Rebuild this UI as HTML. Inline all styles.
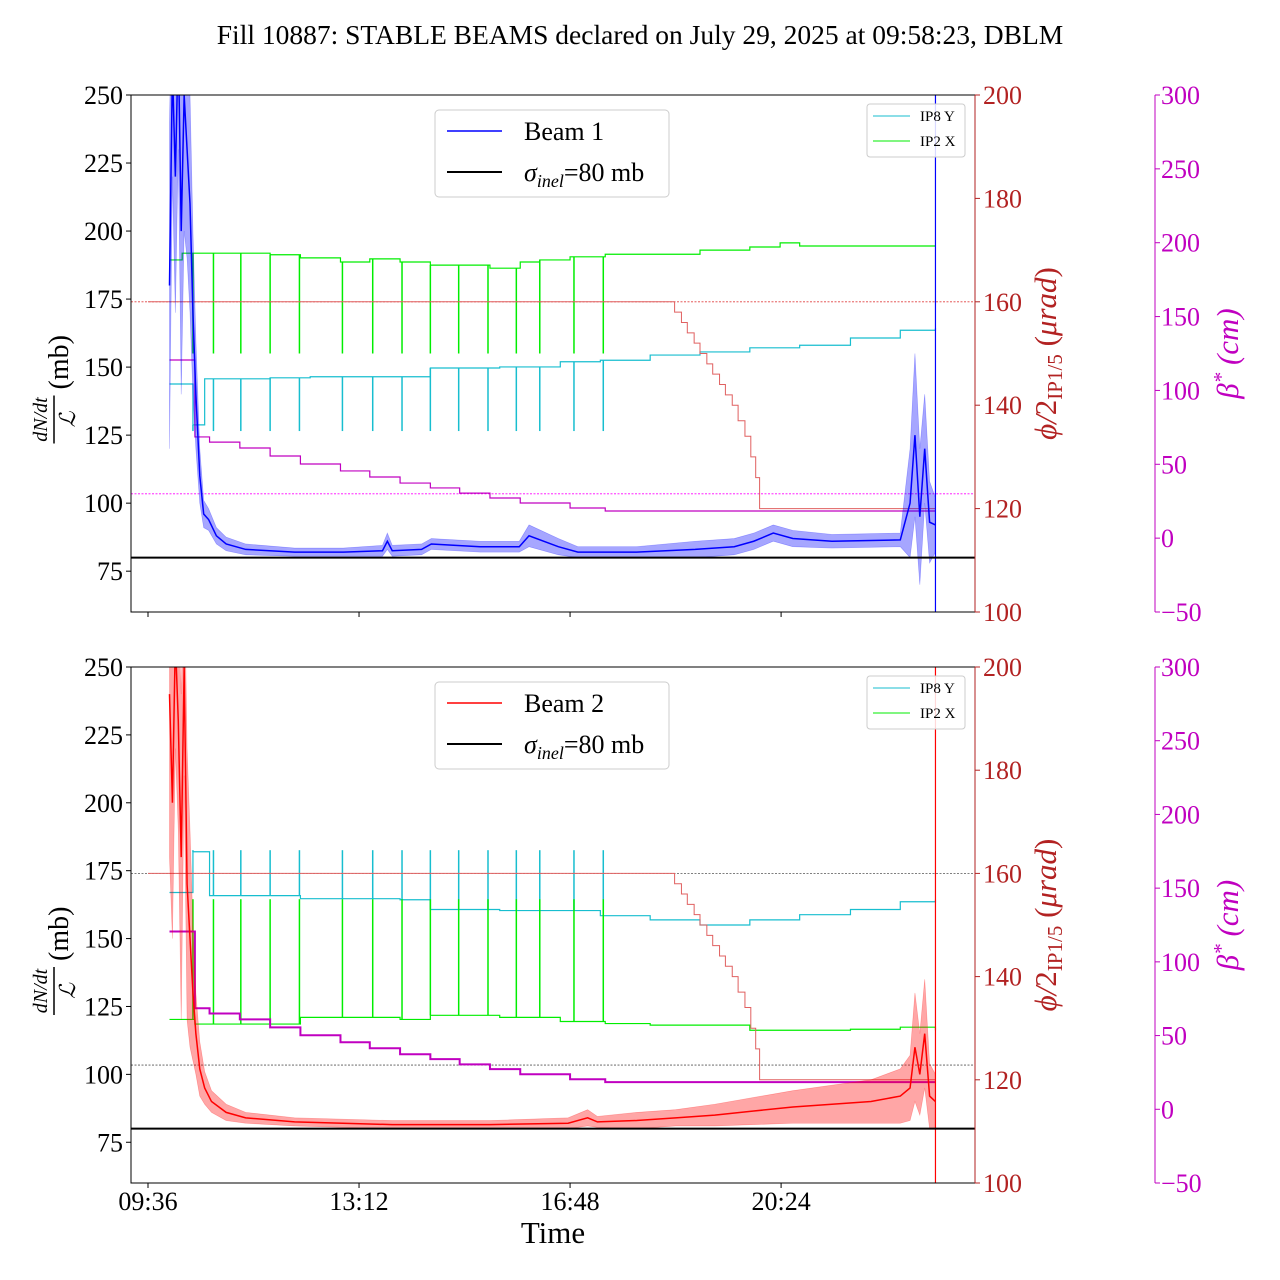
<!DOCTYPE html>
<html><head><meta charset="utf-8"><style>
html,body{margin:0;padding:0;background:#fff}
svg{display:block;font-family:"Liberation Serif",serif}
</style></head><body>
<svg id="chart" width="1280" height="1280" viewBox="0 0 1280 1280" xmlns="http://www.w3.org/2000/svg">
<defs>
<clipPath id="clip0"><rect x="131" y="95" width="844" height="517"/></clipPath>
<clipPath id="clip1"><rect x="131" y="667" width="844" height="516"/></clipPath>
</defs>
<text x="640" y="44" font-size="27.5" text-anchor="middle">Fill 10887: STABLE BEAMS declared on July 29, 2025 at 09:58:23, DBLM</text>
<g id="root"></g>
</svg>
<script>
// ---- data (time in minutes since 09:36) ----
const xTickLabels = ["09:36","13:12","16:48","20:24"];
const xTickTimes = [0,216,432,648];
const leftTicks = [75,100,125,150,175,200,225,250];
const redTicks = [100,120,140,160,180,200];
const magTicks = [-50,0,50,100,150,200,250,300];

const b1Times = [22,25,28,31,34,37,40,43,46,49,53,57,62,70,80,100,150,200,240,245,250,280,290,340,380,390,420,440,500,560,600,620,640,660,700,770,780,785,790,795,800,806];
const b1Vals  = [180,260,220,270,200,250,230,210,170,140,110,96,94,88,85,83,82,82,82.5,86,82.5,83,85,84,84,88,84,82,82,83,84,86,89,87,86,86.5,100,125,95,120,93,92];
const b1Spread= [60,40,50,40,60,50,40,40,30,20,10,5,4,3,2.5,2,1.5,1.5,2,3,2,2,2,2,2,4,3,2,2,3,3,3,3,3,2.5,2.5,20,30,25,20,15,10];

const b2Times = [22,25,28,31,34,37,40,43,46,49,53,58,65,80,100,150,250,350,430,450,460,500,540,580,620,660,700,740,770,780,785,790,795,800,806];
const b2Vals  = [240,200,260,230,180,250,170,150,130,115,102,95,90,86,84,82.5,81.5,81.5,82,84,82.5,83,84,85,86.5,88,89,90,92,95,110,100,115,92,90];
const b2Spread= [60,50,40,40,60,40,50,40,25,15,10,6,4,3,2,1.5,1.5,1.5,2,3,2,3,3,4,5,6,7,8,10,12,20,15,20,12,10];

const spikeTimes = [46,67,95,125,155,199,230,260,289,318,348,377,401,436,466];

const cyanTopTimes = [22,46,58,125,166,289,360,422,463,514,565,616,667,719,770,806];
const cyanTopVals  = [144.1,136.2,145.1,145.3,145.5,147.2,147.4,148.4,148.7,149.7,150.3,151.1,151.6,153,154.5,154.9];
const greenTopTimes = [22,35,63,125,156,197,227,258,289,319,350,381,401,432,468,514,565,616,647,667,719,770,806];
const greenTopVals  = [168.1,169.4,169.4,169.1,168.5,167.7,168.3,167.7,167.1,167.1,166.5,167.7,168.1,168.7,169.2,169.2,170,170.6,171.4,170.8,170.8,170.8,170.8];

const cyanBotTimes = [22,46,63,156,258,289,360,463,514,565,616,667,719,770,806];
const cyanBotVals  = [156.3,164.2,155.7,155.1,154.9,153,152.8,151.8,151,150,151,152,153,154.5,154.9];
const greenBotTimes = [22,48,156,258,289,360,422,468,514,616,719,770,806];
const greenBotVals  = [131.7,130.8,132.1,131.7,132.5,132.1,131.3,130.9,130.6,129.6,129.8,130.2,129.6];

const xingTimes = [0,539,546,552,559,565,572,578,585,591,598,604,611,617,622,626];
const xingVals  = [160,158,156,154,152,150,148,146,144,142,140,137,134,130,126,120];

const betaTimes = [22,48,63,94,125,156,197,227,258,289,319,350,381,432,468];
const betaVals  = [120.6,68.5,65,61,55.6,50.2,45.5,41.4,37.3,34,30.5,27.2,23.8,20.4,18.4];

const endTime = 806;

// ---- scales ----
const NS = "http://www.w3.org/2000/svg";
const X0 = 131, X1 = 975;
const panels = [{top:95, bot:612}, {top:667, bot:1183}];
function xS(t){ return 148 + t*0.977; }
function yL(v,p){ return p.top + (250-v)*(p.bot-p.top)/190; }
function yR(v,p){ return p.top + (200-v)*(p.bot-p.top)/100; }
function yM(v,p){ return p.top + (300-v)*(p.bot-p.top)/350; }
const root = document.getElementById('root');
function mk(tag, attrs, parent){
  const e = document.createElementNS(NS, tag);
  for (const k in attrs) e.setAttribute(k, attrs[k]);
  (parent||root).appendChild(e);
  return e;
}
function stepPath(times, vals, yf, p, tEnd){
  let d = "";
  for (let i=0;i<times.length;i++){
    const x = xS(times[i]), y = yf(vals[i],p);
    if (i===0) d += "M"+x+","+y; else d += "H"+x+"V"+y;
  }
  d += "H"+xS(tEnd);
  return d;
}
function linePath(times, vals, yf, p){
  return times.map((t,i)=>(i?"L":"M")+xS(t)+","+yf(vals[i],p)).join("");
}
function bandPath(times, vals, spr, yf, p){
  let d = times.map((t,i)=>(i?"L":"M")+xS(t)+","+yf(vals[i]+spr[i],p)).join("");
  for (let i=times.length-1;i>=0;i--) d += "L"+xS(times[i])+","+yf(vals[i]-spr[i],p);
  return d+"Z";
}
function valAt(times, vals, t){
  let v = vals[0];
  for (let i=0;i<times.length;i++) if (times[i]<=t) v = vals[i];
  return v;
}

panels.forEach((p, pi) => {
  const isTop = pi===0;
  const g = mk('g', {'clip-path':'url(#clip'+pi+')'});
  
  
  const ref1 = mk('line', {x1:X0,x2:X1,y1:yR(160,p),y2:yR(160,p),stroke:isTop?'#e04040':'#555','stroke-width':0.8,'stroke-dasharray':'2,1.5'}, g);
  
  
  const ref2 = mk('line', {x1:X0,x2:X1,y1:yM(30,p),y2:yM(30,p),stroke:isTop?'#f0f':'#555','stroke-width':0.8,'stroke-dasharray':'2,1.5'}, g);
  
  
  const cT = isTop?cyanTopTimes:cyanBotTimes, cV = isTop?cyanTopVals:cyanBotVals;
  const gT = isTop?greenTopTimes:greenBotTimes, gV = isTop?greenTopVals:greenBotVals;
  const cSpike = isTop?135:164.5, gSpike = isTop?150:155;
  const cy = mk('path', {d:stepPath(cT,cV,yR,p,endTime),fill:'none',stroke:'#17becf','stroke-width':1.2}, g);
  
  
  const gr = mk('path', {d:stepPath(gT,gV,yR,p,endTime),fill:'none',stroke:'#00ee00','stroke-width':1.2}, g);
  
  
  spikeTimes.forEach(t => {
    const x = xS(t);
    const s1 = mk('line', {x1:x,x2:x,y1:yR(valAt(cT,cV,t),p),y2:yR(cSpike,p),stroke:'#17becf','stroke-width':1.5}, g);
    
    
    const s2 = mk('line', {x1:x,x2:x,y1:yR(valAt(gT,gV,t),p),y2:yR(gSpike,p),stroke:'#00ee00','stroke-width':1.5}, g);
    
    
  });
  const xa = mk('path', {d:stepPath(xingTimes,xingVals,yR,p,endTime),fill:'none',stroke:'#e06060','stroke-width':1}, g);
  
  
  const bs = mk('path', {d:stepPath(betaTimes,betaVals,yM,p,endTime),fill:'none',stroke:'#c000c0','stroke-width':isTop?1.2:2}, g);
  
  
  const bt = isTop?b1Times:b2Times, bv = isTop?b1Vals:b2Vals, bw = isTop?b1Spread:b2Spread;
  const col = isTop?'#0000ff':'#ff0000';
  const band = mk('path', {d:bandPath(bt,bv,bw,yL,p),fill:col,'fill-opacity':0.35,stroke:col,'stroke-opacity':0.3,'stroke-width':0.6}, g);
  
  
  const bl = mk('path', {d:linePath(bt,bv,yL,p),fill:'none',stroke:col,'stroke-width':1.5}, g);
  
  
  const vl = mk('line', {x1:xS(endTime),x2:xS(endTime),y1:p.top,y2:p.bot,stroke:col,'stroke-width':1.2}, g);
  
  
  const ref80 = mk('line', {x1:X0,x2:X1,y1:yL(80,p),y2:yL(80,p),stroke:'#000','stroke-width':2}, g);
  
  

  const fr = mk('rect', {x:X0,y:p.top,width:X1-X0,height:p.bot-p.top,fill:'none',stroke:'#000','stroke-width':1});
  
  
  leftTicks.forEach(v => {
    const y = yL(v,p);
    mk('line',{x1:X0-5,x2:X0,y1:y,y2:y,stroke:'#000'});
    const t = mk('text',{x:X0-8,y:y+9,'font-size':26,'text-anchor':'end'});
    t.textContent = v;
    
    
  });
  redTicks.forEach(v => {
    const y = yR(v,p);
    mk('line',{x1:X1,x2:X1+5,y1:y,y2:y,stroke:'#b22222'});
    const t = mk('text',{x:X1+8,y:y+9,'font-size':26,fill:'#b22222'});
    t.textContent = v;
    
    
  });
  const rax = mk('line',{x1:X1,x2:X1,y1:p.top,y2:p.bot,stroke:'#b22222'});
  
  
  const mx = 1155;
  const max = mk('line',{x1:mx,x2:mx,y1:p.top,y2:p.bot,stroke:'#c000c0'});
  
  
  magTicks.forEach(v => {
    const y = yM(v,p);
    mk('line',{x1:mx,x2:mx+5,y1:y,y2:y,stroke:'#c000c0'});
    const t = mk('text',{x:mx+6,y:y+9,'font-size':26,fill:'#c000c0'});
    t.textContent = (v<0?'\u221250':v);
    
    
  });
  xTickTimes.forEach((tt,i) => {
    const x = xS(tt);
    mk('line',{x1:x,x2:x,y1:p.bot,y2:p.bot+5,stroke:'#000'});
    if (!isTop){
      const t = mk('text',{x:x,y:p.bot+27,'font-size':26,'text-anchor':'middle'});
      t.textContent = xTickLabels[i];
      
      
    }
  });
  const cyM = (p.top+p.bot)/2;
  const yl = mk('g',{transform:'translate(60,'+(cyM)+') rotate(-90)'});
  
  
  const f1 = mk('text',{x:-66,y:-13,'font-size':20,'font-style':'italic','text-anchor':'middle'}, yl); f1.textContent='dN/dt';
  mk('line',{x1:-90,x2:-42,y1:-6,y2:-6,stroke:'#000','stroke-width':1.5}, yl);
  const f2 = mk('text',{x:-66,y:15,'font-size':22,'font-style':'italic','text-anchor':'middle'}, yl); f2.textContent='\u2112';
  const f3 = mk('text',{x:-36,y:8,'font-size':28}, yl); f3.textContent='(mb)';
  const rl = mk('text',{transform:'translate(1056,'+cyM+') rotate(-90)','font-size':31,'text-anchor':'middle',fill:'#b22222'});
  
  
  rl.innerHTML = '<tspan font-style="italic">\u03d5/</tspan>2<tspan font-size="21" dy="6">IP1/5</tspan><tspan dy="-6"> (</tspan><tspan font-style="italic">\u03bcrad</tspan>)';
  const ml = mk('text',{transform:'translate(1238,'+cyM+') rotate(-90)','font-size':31,'text-anchor':'middle',fill:'#c000c0','font-style':'italic'});
  
  
  ml.innerHTML = '\u03b2<tspan font-size="21" dy="-10">*</tspan><tspan dy="10"> (cm)</tspan>';

  const off = p.top - 95;
  const lg = mk('g',{});
  
  
  mk('rect',{x:435,y:110+off,width:234,height:87,rx:4,fill:'#fff','fill-opacity':0.85,stroke:'#ccc'}, lg);
  mk('line',{x1:447,x2:502,y1:131+off,y2:131+off,stroke:col,'stroke-width':1.5}, lg);
  const lt1 = mk('text',{x:524,y:140+off,'font-size':26}, lg); lt1.textContent = isTop?'Beam 1':'Beam 2';
  mk('line',{x1:447,x2:502,y1:172+off,y2:172+off,stroke:'#000','stroke-width':2}, lg);
  const lt2 = mk('text',{x:524,y:181+off,'font-size':26}, lg);
  lt2.innerHTML = '<tspan font-style="italic">\u03c3</tspan><tspan font-style="italic" font-size="18" dy="6">inel</tspan><tspan dy="-6">=80 mb</tspan>';
  const sg = mk('g',{});
  
  
  mk('rect',{x:867,y:104+off,width:98,height:53,rx:3,fill:'#fff','fill-opacity':0.85,stroke:'#ccc'}, sg);
  mk('line',{x1:873,x2:910,y1:116+off,y2:116+off,stroke:'#17becf'}, sg);
  const s1 = mk('text',{x:920,y:121+off,'font-size':15}, sg); s1.textContent='IP8 Y';
  mk('line',{x1:873,x2:910,y1:141+off,y2:141+off,stroke:'#00ee00'}, sg);
  const s2 = mk('text',{x:920,y:146+off,'font-size':15}, sg); s2.textContent='IP2 X';
});
const xt = mk('text',{x:553,y:1243,'font-size':31,'text-anchor':'middle'});
xt.textContent = 'Time';


</script>
</body></html>
